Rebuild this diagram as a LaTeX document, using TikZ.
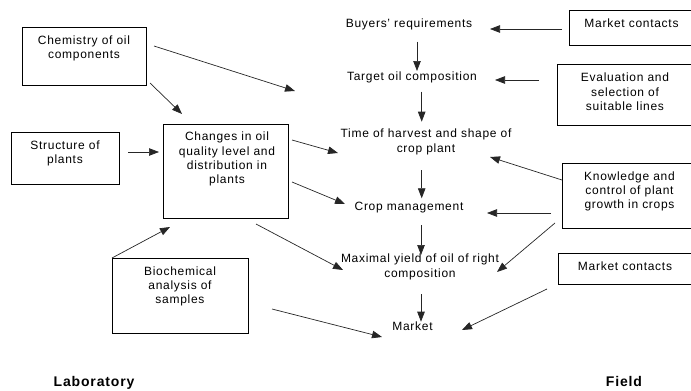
\documentclass[tikz,border=0pt]{standalone}
\usepackage{fontspec}
\setmainfont{Liberation Sans}[LetterSpace=6]
\usetikzlibrary{arrows.meta, positioning}

\begin{document}
\begin{tikzpicture}[x=1pt, y=-1pt, font=\fontsize{12}{14.3}\selectfont]

	\tikzstyle{box}=[draw, rectangle, thin, inner sep=0pt, outer sep=0pt, anchor=north west]
	\tikzstyle{txt}=[align=center, inner sep=0pt, anchor=base]
	\tikzstyle{place}=[inner sep=0pt, anchor=base, font=\fontsize{14}{16}\selectfont\bfseries]
	\tikzstyle{arc}=[-{Triangle[length=10pt,width=7.5pt]}, line width=0.7pt, black!85]

	\useasboundingbox (0,0) rectangle (691,391);

	% laboratory side (text nodes sit on their last baseline)
	\node[box, minimum width=124pt, minimum height=58pt] (chem) at (22,27) {};
	\node[box, minimum width=108pt, minimum height=52pt] (struct) at (11,132) {};
	\node[box, minimum width=125pt, minimum height=94pt] (change) at (163,124) {};
	\node[box, minimum width=136pt, minimum height=75pt] (bio) at (112,258) {};
	\node[txt] (chemt) at (84,58.3) {Chemistry of oil\\components};
	\node[txt] (structt) at (65,163.3) {Structure of\\plants};
	\node[txt] (changet) at (227,183.6) {Changes in oil\\quality level and\\distribution in\\plants};
	\node[txt] (biot) at (180,303.6) {Biochemical\\analysis of\\samples};

	% field side
	\node[box, minimum width=130pt, minimum height=35pt] (mc1) at (569,10) {};
	\node[box, minimum width=140pt, minimum height=61pt] (eval) at (557,64) {};
	\node[box, minimum width=140pt, minimum height=65pt] (know) at (562,163) {};
	\node[box, minimum width=140pt, minimum height=31pt] (mc2) at (558,253) {};
	\node[txt] (mc1t) at (631.5,27) {Market contacts};
	\node[txt] (evalt) at (625,110.3) {Evaluation and\\selection of\\suitable lines};
	\node[txt] (knowt) at (629.5,208.6) {Knowledge and\\control of plant\\growth in crops};
	\node[txt] (mc2t) at (625,270) {Market contacts};

	% chain in the middle
	\node[txt] (buyers) at (409,27) {Buyers' requirements};
	\node[txt] (target) at (412,80) {Target oil composition};
	\node[txt] (time) at (426,152) {Time of harvest and shape of\\crop plant};
	\node[txt] (crop) at (409,210.7) {Crop management};
	\node[txt] (yield) at (420,277) {Maximal yield of oil of right\\composition};
	\node[txt] (market) at (412.5,330) {Market};
	\coordinate (compo) at (295,91);

	\node[place] (lab) at (94,386.5) {Laboratory};
	\node[place] (field) at (624,386.5) {Field};

	% arrows down the chain
	\draw[arc] ([shift={(8,14.7)}]buyers.base) -- ([shift={(5,-9)}]target.base);
	\draw[arc] ([shift={(9.7,11.7)}]target.base) -- ([shift={(-4.3,-30.3)}]time.base);
	\draw[arc] ([shift={(-4.3,18)}]time.base) -- ([shift={(12.7,-12.4)}]crop.base);
	\draw[arc] ([shift={(12,14.3)}]crop.base) -- ([shift={(1,-22)}]yield.base);
	\draw[arc] ([shift={(1,17)}]yield.base) -- ([shift={(8.5,-8.3)}]market.base);

	% from the laboratory
	\draw[arc] ([shift={(8,-10)}]chem.east) -- (compo);
	\draw[arc] ([shift={(4,-2)}]chem.south east) -- ([shift={(19,-10)}]change.north west);
	\draw[arc] ([shift={(9,-6)}]struct.east) -- ([shift={(-4,-19)}]change.west);
	\draw[arc] ([shift={(4,16)}]change.north east) -- ([shift={(-88,1)}]time.base);
	\draw[arc] ([shift={(4,11)}]change.east) -- ([shift={(-64,-6.7)}]crop.base);
	\draw[arc] ([shift={(30.5,6)}]change.south) -- ([shift={(-77,-7)}]yield.base);
	\draw[arc] (bio.north west) -- ([shift={(7,9)}]change.south west);
	\draw[arc] ([shift={(24,13.5)}]bio.east) -- ([shift={(-30.5,7)}]market.base);

	% from the field
	\draw[arc] ([shift={(-7,1.5)}]mc1.west) -- ([shift={(81,2)}]buyers.base);
	\draw[arc] ([shift={(-18,-14.5)}]eval.west) -- ([shift={(83,0)}]target.base);
	\draw[arc] ([shift={(0,-15.5)}]know.west) -- ([shift={(64,5)}]time.base);
	\draw[arc] ([shift={(-11,17.5)}]know.west) -- ([shift={(78,2.3)}]crop.base);
	\draw[arc] ([shift={(-7,-5)}]know.south west) -- ([shift={(77,-5)}]yield.base);
	\draw[arc] ([shift={(-11,5)}]mc2.south west) -- ([shift={(49.5,0)}]market.base);

\end{tikzpicture}
\end{document}
